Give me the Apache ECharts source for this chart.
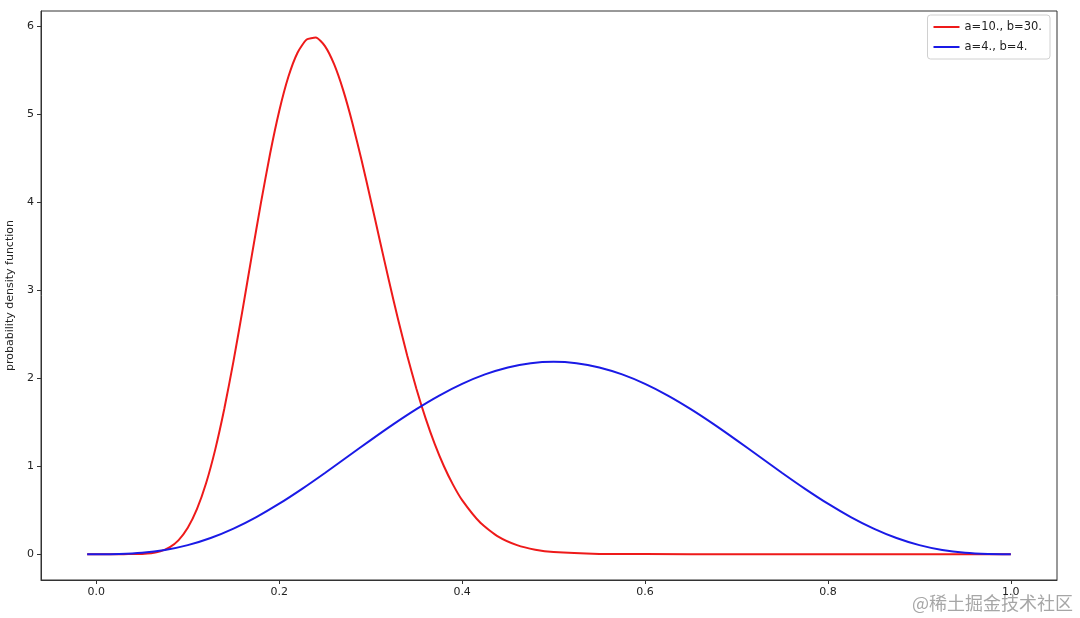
<!DOCTYPE html>
<html>
<head>
<meta charset="utf-8">
<script src="https://cdn.jsdelivr.net/npm/echarts@6/dist/echarts.min.js"></script>
<style>html,body{margin:0;padding:0;background:#fff;}#c{width:1080px;height:618px;}</style>
</head>
<body>
<div id="c"></div>
<script>
// Beta(10,30) curve
const redX = [-0.01,0.00,0.01,0.02,0.03,0.04,0.05,0.06,0.07,0.08,0.09,0.10,0.11,0.12,0.13,0.14,0.15,0.16,0.17,0.18,0.19,0.20,0.21,0.22,0.23,0.24,0.25,0.26,0.27,0.28,0.29,0.30,0.31,0.32,0.33,0.34,0.35,0.36,0.37,0.38,0.39,0.40,0.42,0.44,0.46,0.48,0.50,0.55,0.60,0.70,0.80,0.90,1.00];
const redY = [0,0,0,0,0.0001,0.0005,0.0028,0.0107,0.0313,0.076,0.160,0.299,0.511,0.805,1.188,1.655,2.194,2.783,3.393,3.993,4.551,5.037,5.426,5.700,5.849,5.872,5.775,5.569,5.272,4.902,4.481,4.029,3.566,3.107,2.667,2.256,1.881,1.546,1.253,1.002,0.790,0.614,0.356,0.196,0.102,0.050,0.023,0.0026,0.0002,0,0,0,0];
// Beta(4,4) curve
const blueX = [-0.01,0.000,0.025,0.050,0.075,0.100,0.125,0.150,0.175,0.200,0.225,0.250,0.275,0.300,0.325,0.350,0.375,0.400,0.425,0.450,0.475,0.500,0.525,0.550,0.575,0.600,0.625,0.650,0.675,0.700,0.725,0.750,0.775,0.800,0.825,0.850,0.875,0.900,0.925,0.950,0.975,1.000];
const blueY = [0,0,0.0020,0.0150,0.0468,0.1021,0.1832,0.2902,0.4213,0.5734,0.7423,0.9229,1.1095,1.2965,1.4780,1.6484,1.8025,1.9354,2.0431,2.1225,2.1711,2.1875,2.1711,2.1225,2.0431,1.9354,1.8025,1.6484,1.4780,1.2965,1.1095,0.9229,0.7423,0.5734,0.4213,0.2902,0.1832,0.1021,0.0468,0.0150,0.0020,0];
const seriesNames = ['a=10., b=30.', 'a=4., b=4.'];
const xTicks = [0, 0.2, 0.4, 0.6, 0.8, 1.0];
const yTicks = [0, 1, 2, 3, 4, 5, 6];
const yLabel = 'probability density function';
const watermark = '@稀土掘金技术社区';

const zip = (xs, ys) => xs.map((x, i) => [x, ys[i]]);
const font = 'DejaVu Sans';
const chart = echarts.init(document.getElementById('c'), null, {renderer: 'canvas'});
chart.setOption({
  animation: false,
  backgroundColor: '#fff',
  textStyle: {fontFamily: font},
  grid: {left: 41, right: 23, top: 11, bottom: 38, show: true, borderColor: '#333', borderWidth: 1, containLabel: false, outerBoundsMode: 'none'},
  xAxis: {
    type: 'value', min: -0.0605, max: 1.0505,
    splitLine: {show: false},
    axisLine: {show: true, onZero: false, lineStyle: {color: '#333'}},
    axisTick: {show: true, length: 4, customValues: xTicks, lineStyle: {color: '#333'}},
    axisLabel: {customValues: xTicks, color: '#222', fontSize: 11, fontFamily: font, margin: 7, formatter: v => v.toFixed(1)}
  },
  yAxis: {
    type: 'value', min: -0.294, max: 6.174,
    name: yLabel, nameLocation: 'middle', nameGap: 17,
    nameTextStyle: {color: '#222', fontSize: 11, fontFamily: font},
    splitLine: {show: false},
    axisLine: {show: true, onZero: false, lineStyle: {color: '#333'}},
    axisTick: {show: true, length: 4, customValues: yTicks, lineStyle: {color: '#333'}},
    axisLabel: {customValues: yTicks, color: '#222', fontSize: 11, fontFamily: font, margin: 7, formatter: v => String(Math.round(v))}
  },
  legend: {
    show: true, orient: 'vertical', right: 30, top: 15,
    data: seriesNames,
    icon: 'rect', itemWidth: 26, itemHeight: 2, itemGap: 8,
    backgroundColor: '#fff', borderColor: '#d0d0d0', borderWidth: 1, borderRadius: 3,
    padding: [6, 8, 6, 6],
    textStyle: {color: '#222', fontSize: 11.5, fontFamily: font}
  },
  graphic: [{
    type: 'text', right: 7, bottom: 6,
    style: {text: watermark, fill: 'rgba(150,150,150,0.85)', fontSize: 18, fontFamily: 'Noto Sans CJK SC'}
  }],
  series: [
    {name: seriesNames[0], type: 'line', data: zip(redX, redY), showSymbol: false, symbol: 'none', smooth: 0.2,
     lineStyle: {color: '#ee1a1a', width: 2}, itemStyle: {color: '#ee1a1a'}},
    {name: seriesNames[1], type: 'line', data: zip(blueX, blueY), showSymbol: false, symbol: 'none', smooth: 0.2,
     lineStyle: {color: '#1a1ae6', width: 2}, itemStyle: {color: '#1a1ae6'}}
  ]
});
</script>
</body>
</html>
